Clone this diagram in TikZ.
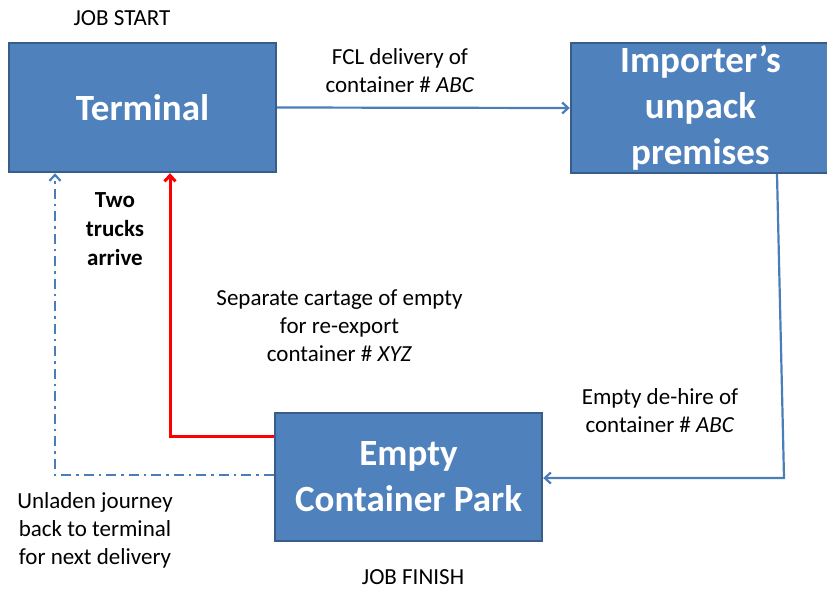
\documentclass[tikz,border=0pt]{standalone}
\usepackage{fontspec}
\setmainfont{Carlito}
\usetikzlibrary{arrows.meta}
\definecolor{boxfill}{RGB}{79,129,189}
\definecolor{boxline}{RGB}{56,93,138}
\definecolor{linkblue}{RGB}{74,126,187}
\tikzset{
  bigbox/.style={draw=boxline, fill=boxfill, line width=2.4pt, inner sep=0pt,
    text=white, align=center, font=\fontsize{37}{46}\selectfont\bfseries},
  lbl/.style={align=center, inner sep=0pt, font=\fontsize{23}{28}\selectfont},
  arr/.style={draw=linkblue, line width=2.2pt, -{Straight Barb[length=6pt,width=11pt]}},
  redarr/.style={draw=red, line width=3pt, -{Straight Barb[length=6pt,width=11pt]}},
  dd/.style={arr, dash pattern=on 10pt off 5pt on 2.5pt off 5pt}
}
\begin{document}
\begin{tikzpicture}[x=1pt,y=-1pt]
\useasboundingbox (0,0) rectangle (827,590);
\node[bigbox, minimum width=267pt, minimum height=129pt] (term) at (142.5,107.5) {Terminal};
\node[bigbox, minimum width=259pt, minimum height=130pt] (imp) at (700.5,108) {Importer’s\\unpack\\premises};
\node[bigbox, minimum width=267pt, minimum height=128pt] (ecp) at (408.5,477) {Empty\\Container Park};

\node[lbl] (js) at (122,18) {JOB START};
\node[lbl] (jf) at (413,577) {JOB FINISH};
\node[lbl] (fcl) at (400,71) {FCL delivery of\\container \# \textit{ABC}};
\node[lbl, font=\fontsize{23}{29}\selectfont\bfseries] (two) at (115,229) {Two\\trucks\\arrive};
\node[lbl] (sep) at (339.5,326) {Separate cartage of empty\\for re-export\\container \# \textit{XYZ}};
\node[lbl] (deh) at (660,410.5) {Empty de-hire of\\container \# \textit{ABC}};
\node[lbl] (unl) at (95,530) {Unladen journey\\back to terminal\\for next delivery};

\coordinate (c1) at (784,478);
\draw[arr] (term.east) -- (imp.west);
\draw[arr] ([xshift=76.5pt]imp.south) -- (c1) -- (ecp.east |- c1);
\draw[redarr] ([yshift=41pt]ecp.west) -| ([xshift=27.5pt]term.south);
\draw[dd] ([yshift=2pt]ecp.west) -| ([xshift=-87.5pt]term.south);
\end{tikzpicture}
\end{document}
